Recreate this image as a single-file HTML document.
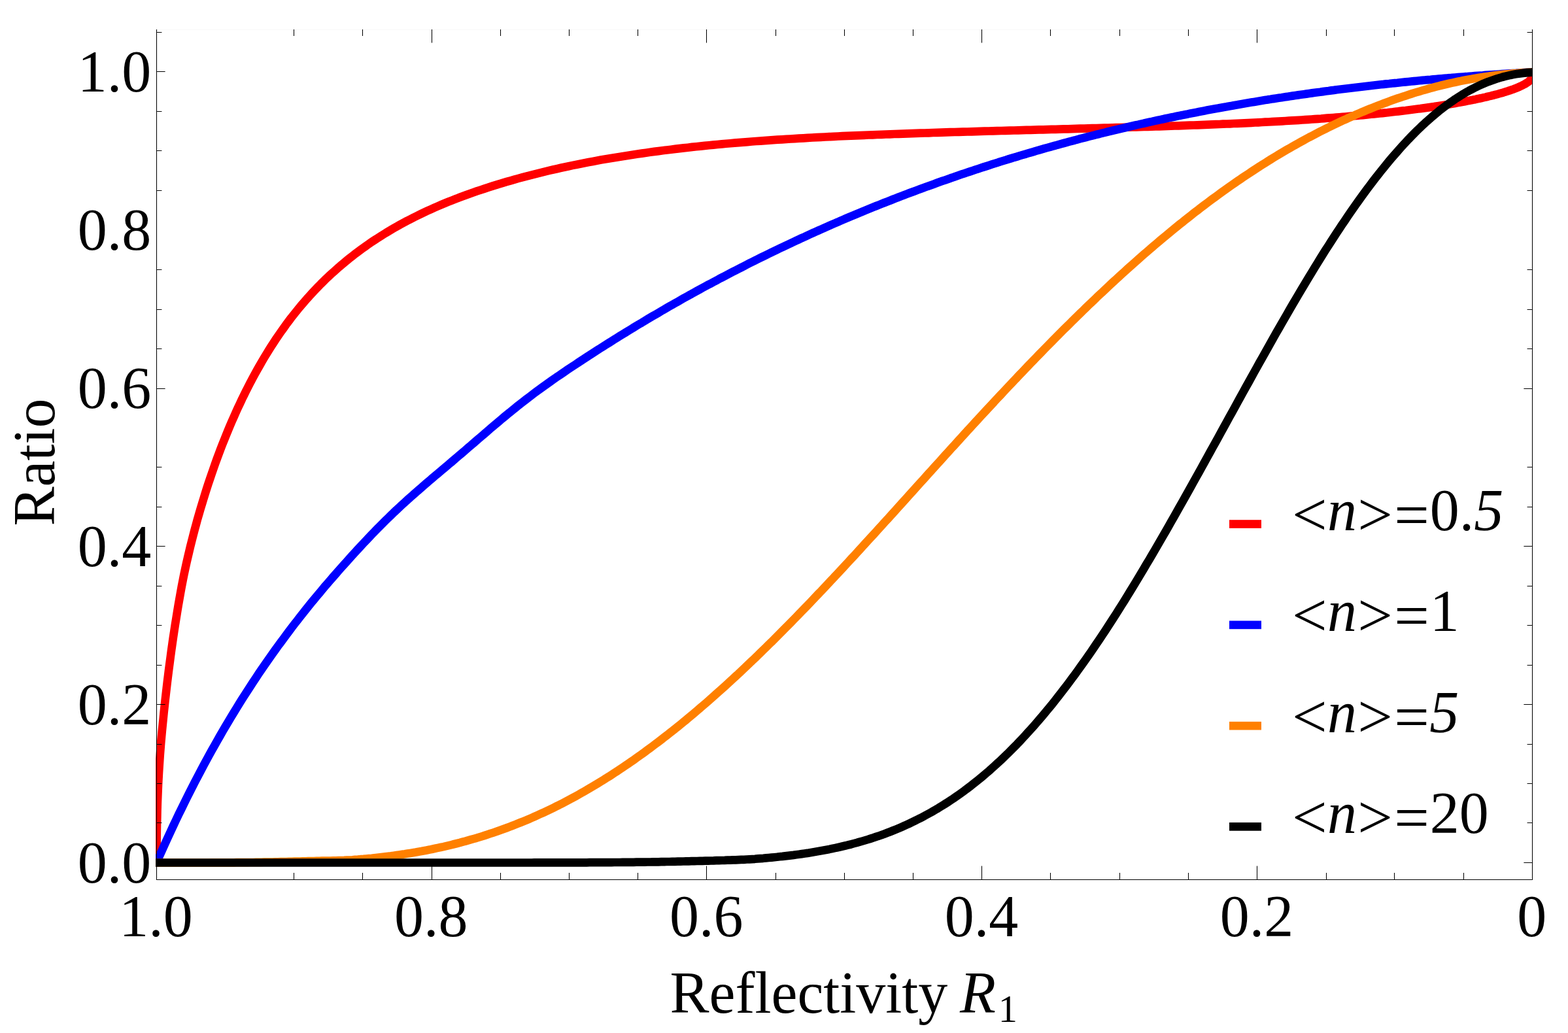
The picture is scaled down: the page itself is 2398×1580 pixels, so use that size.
<!DOCTYPE html>
<html lang="en"><head><meta charset="utf-8"><title>Ratio vs Reflectivity R1</title>
<style>html,body{margin:0;padding:0;background:#fff}svg{display:block}text{font-family:"Liberation Serif", "DejaVu Serif", serif;font-size:90px;fill:#000}.it{font-style:italic}</style></head><body>
<svg width="2398" height="1580" viewBox="0 0 2398 1580">
<rect width="2398" height="1580" fill="#fff"/>
<clipPath id="c"><rect x="238.1" y="45.0" width="2105.1" height="1300.4"/></clipPath>
<g clip-path="url(#c)" fill="none" stroke-width="12.7" stroke-linejoin="round" stroke-linecap="butt">
<path stroke="#ff0000" d="M235.5,1319.5 L239.5,1319.5 L239.5,1307.1 L239.6,1295.0 L239.7,1283.4 L239.8,1272.0 L240.0,1261.0 L240.3,1250.3 L240.5,1239.8 L240.8,1229.6 L241.2,1219.6 L241.6,1209.8 L242.0,1200.2 L242.5,1190.7 L243.0,1181.4 L243.6,1172.2 L244.2,1163.1 L244.8,1154.0 L245.5,1145.0 L246.2,1136.1 L247.0,1127.1 L247.8,1118.1 L248.7,1109.1 L249.6,1100.0 L250.5,1090.8 L251.5,1081.5 L252.5,1072.1 L253.6,1062.6 L254.7,1053.1 L255.8,1043.5 L257.0,1033.8 L258.2,1024.1 L259.5,1014.3 L260.8,1004.5 L262.1,994.7 L263.5,984.9 L264.9,975.0 L266.4,965.1 L267.9,955.2 L269.5,945.4 L271.1,935.6 L272.7,925.8 L274.4,916.1 L276.1,906.5 L277.8,897.1 L279.6,887.9 L281.4,878.8 L283.3,869.9 L285.2,861.1 L287.2,852.5 L289.2,844.0 L291.2,835.5 L293.3,827.2 L295.4,819.0 L297.5,810.9 L299.7,802.8 L301.9,794.7 L304.2,786.7 L306.5,778.8 L308.9,770.9 L311.3,763.0 L313.7,755.2 L316.1,747.5 L318.6,739.8 L321.2,732.1 L323.8,724.5 L326.4,717.0 L329.0,709.5 L331.7,702.0 L334.5,694.6 L337.2,687.3 L340.0,680.0 L342.9,672.8 L345.8,665.6 L348.7,658.5 L351.6,651.5 L354.6,644.5 L357.7,637.6 L360.7,630.7 L363.8,623.9 L367.0,617.2 L370.1,610.5 L373.4,603.9 L376.6,597.3 L379.9,590.9 L383.2,584.4 L386.6,578.1 L390.0,571.8 L393.4,565.6 L396.9,559.5 L400.4,553.4 L403.9,547.4 L407.5,541.5 L411.1,535.7 L414.7,529.9 L418.4,524.2 L422.1,518.6 L425.9,513.0 L429.7,507.5 L433.5,502.2 L437.3,496.8 L441.2,491.6 L445.1,486.4 L449.1,481.4 L453.1,476.4 L457.1,471.4 L461.1,466.6 L465.2,461.8 L469.3,457.1 L473.5,452.5 L477.7,447.9 L481.9,443.4 L486.1,439.0 L490.4,434.6 L494.7,430.4 L499.0,426.1 L503.4,422.0 L507.8,417.9 L512.3,413.9 L516.7,410.0 L521.2,406.1 L525.7,402.3 L530.3,398.5 L534.9,394.8 L539.5,391.2 L544.1,387.6 L548.8,384.1 L553.5,380.6 L558.3,377.2 L563.0,373.9 L567.8,370.6 L572.6,367.4 L577.5,364.2 L582.4,361.1 L587.3,358.0 L592.2,355.0 L597.2,352.0 L602.2,349.1 L607.2,346.2 L612.2,343.4 L617.3,340.7 L622.4,337.9 L627.5,335.3 L632.7,332.6 L637.8,330.1 L643.1,327.5 L648.3,325.0 L653.5,322.6 L658.8,320.2 L664.1,317.8 L669.4,315.5 L674.8,313.2 L680.2,310.9 L685.6,308.7 L691.0,306.6 L696.5,304.4 L701.9,302.3 L707.4,300.3 L712.9,298.2 L718.5,296.2 L724.1,294.3 L729.6,292.3 L735.3,290.4 L740.9,288.6 L746.5,286.7 L752.2,284.9 L757.9,283.1 L763.6,281.4 L769.4,279.6 L775.1,277.9 L780.9,276.3 L786.7,274.6 L792.5,273.0 L798.4,271.4 L804.2,269.8 L810.1,268.3 L816.0,266.8 L821.9,265.3 L827.9,263.8 L833.8,262.4 L839.8,260.9 L845.8,259.5 L851.8,258.2 L857.8,256.8 L863.9,255.5 L869.9,254.2 L876.0,252.9 L882.1,251.7 L888.2,250.5 L894.3,249.3 L900.5,248.1 L906.6,246.9 L912.8,245.8 L919.0,244.6 L925.2,243.6 L931.4,242.5 L937.6,241.4 L943.9,240.4 L950.1,239.4 L956.4,238.4 L962.7,237.4 L969.0,236.4 L975.3,235.5 L981.6,234.6 L988.0,233.7 L994.3,232.8 L1000.7,231.9 L1007.1,231.1 L1013.4,230.3 L1019.8,229.5 L1026.2,228.7 L1032.6,227.9 L1039.1,227.1 L1045.5,226.4 L1052.0,225.7 L1058.4,224.9 L1064.9,224.3 L1071.3,223.6 L1077.8,222.9 L1084.3,222.3 L1090.8,221.6 L1097.3,221.0 L1103.8,220.4 L1110.4,219.8 L1116.9,219.2 L1123.4,218.7 L1130.0,218.1 L1136.5,217.6 L1143.1,217.1 L1149.6,216.5 L1156.2,216.0 L1162.8,215.6 L1169.3,215.1 L1175.9,214.6 L1182.5,214.2 L1189.1,213.7 L1195.7,213.3 L1202.3,212.9 L1208.9,212.5 L1215.5,212.1 L1222.1,211.7 L1228.7,211.3 L1235.3,210.9 L1241.9,210.5 L1248.6,210.2 L1255.2,209.8 L1261.8,209.5 L1268.4,209.2 L1275.0,208.9 L1281.7,208.5 L1288.3,208.2 L1294.9,207.9 L1301.5,207.6 L1308.2,207.4 L1314.8,207.1 L1321.4,206.8 L1328.0,206.5 L1334.6,206.3 L1341.3,206.0 L1347.9,205.8 L1354.5,205.5 L1361.1,205.3 L1367.7,205.0 L1374.3,204.8 L1380.9,204.6 L1387.5,204.3 L1394.1,204.1 L1400.7,203.9 L1407.3,203.7 L1413.9,203.5 L1420.4,203.3 L1427.0,203.0 L1433.6,202.8 L1440.1,202.6 L1446.7,202.4 L1453.2,202.2 L1459.8,202.0 L1466.3,201.8 L1472.8,201.6 L1479.4,201.5 L1485.9,201.3 L1492.4,201.1 L1498.9,200.9 L1505.4,200.7 L1511.9,200.5 L1518.3,200.3 L1524.8,200.2 L1531.2,200.0 L1537.7,199.8 L1544.1,199.6 L1550.6,199.5 L1557.0,199.3 L1563.4,199.1 L1569.8,198.9 L1576.1,198.8 L1582.5,198.6 L1588.9,198.4 L1595.2,198.3 L1601.6,198.1 L1607.9,197.9 L1614.2,197.8 L1620.5,197.6 L1626.8,197.4 L1633.1,197.3 L1639.3,197.1 L1645.6,196.9 L1651.8,196.7 L1658.0,196.6 L1664.2,196.4 L1670.4,196.2 L1676.6,196.1 L1682.7,195.9 L1688.9,195.7 L1695.0,195.6 L1701.1,195.4 L1707.2,195.2 L1713.3,195.1 L1719.3,194.9 L1725.4,194.7 L1731.4,194.5 L1737.4,194.3 L1743.4,194.2 L1749.4,194.0 L1755.3,193.8 L1761.3,193.6 L1767.2,193.4 L1773.1,193.3 L1779.0,193.1 L1784.8,192.9 L1790.7,192.7 L1796.5,192.5 L1802.3,192.3 L1808.1,192.1 L1813.8,191.9 L1819.6,191.7 L1825.3,191.5 L1831.0,191.3 L1836.7,191.1 L1842.3,190.9 L1847.9,190.6 L1853.6,190.4 L1859.1,190.2 L1864.7,190.0 L1870.3,189.7 L1875.8,189.5 L1881.3,189.3 L1886.7,189.0 L1892.2,188.8 L1897.6,188.6 L1903.0,188.3 L1908.4,188.1 L1913.8,187.8 L1919.1,187.5 L1924.4,187.3 L1929.7,187.0 L1934.9,186.7 L1940.1,186.5 L1945.4,186.2 L1950.5,185.9 L1955.7,185.6 L1960.8,185.3 L1965.9,185.0 L1971.0,184.7 L1976.0,184.4 L1981.0,184.1 L1986.0,183.8 L1991.0,183.5 L1995.9,183.2 L2000.8,182.8 L2005.7,182.5 L2010.6,182.2 L2015.4,181.8 L2020.2,181.5 L2024.9,181.1 L2029.7,180.7 L2034.4,180.4 L2039.1,180.0 L2043.7,179.6 L2048.3,179.3 L2052.9,178.9 L2057.5,178.5 L2062.0,178.1 L2066.5,177.7 L2070.9,177.3 L2075.4,176.9 L2079.8,176.5 L2084.2,176.1 L2088.5,175.7 L2092.8,175.2 L2097.1,174.8 L2101.3,174.4 L2105.5,174.0 L2109.7,173.5 L2113.9,173.1 L2118.0,172.6 L2122.1,172.2 L2126.1,171.7 L2130.1,171.3 L2134.1,170.8 L2138.1,170.4 L2142.0,169.9 L2145.9,169.4 L2149.7,169.0 L2153.5,168.5 L2157.3,168.0 L2161.1,167.5 L2164.8,167.0 L2168.5,166.5 L2172.1,166.1 L2175.7,165.6 L2179.3,165.1 L2182.8,164.6 L2186.3,164.1 L2189.8,163.6 L2193.2,163.1 L2196.6,162.5 L2200.0,162.0 L2203.3,161.5 L2206.6,161.0 L2209.8,160.5 L2213.1,160.0 L2216.2,159.4 L2219.4,158.9 L2222.5,158.4 L2225.5,157.9 L2228.6,157.3 L2231.6,156.8 L2234.5,156.2 L2237.4,155.7 L2240.3,155.2 L2243.2,154.6 L2246.0,154.1 L2248.7,153.5 L2251.5,153.0 L2254.2,152.4 L2256.8,151.9 L2259.4,151.3 L2262.0,150.8 L2264.6,150.2 L2267.1,149.7 L2269.5,149.1 L2271.9,148.6 L2274.3,148.0 L2276.7,147.4 L2279.0,146.9 L2281.3,146.3 L2283.5,145.8 L2285.7,145.2 L2287.8,144.6 L2289.9,144.1 L2292.0,143.5 L2294.0,142.9 L2296.0,142.4 L2298.0,141.8 L2299.9,141.2 L2301.8,140.7 L2303.6,140.1 L2305.4,139.5 L2307.1,138.9 L2308.8,138.4 L2310.5,137.8 L2312.1,137.2 L2313.7,136.7 L2315.3,136.1 L2316.8,135.5 L2318.3,135.0 L2319.7,134.4 L2321.1,133.8 L2322.4,133.2 L2323.7,132.7 L2325.0,132.1 L2326.2,131.5 L2327.4,131.0 L2328.5,130.4 L2329.6,129.8 L2330.7,129.3 L2331.7,128.7 L2332.7,128.1 L2333.6,127.6 L2334.5,127.0 L2335.4,126.4 L2336.2,125.9 L2337.0,125.3 L2337.7,124.8 L2338.4,124.2 L2339.0,123.7 L2339.6,123.1 L2340.2,122.5 L2340.7,122.0 L2341.2,121.4 L2341.6,120.9 L2342.0,120.3 L2342.4,119.8 L2342.7,119.3 L2342.9,118.7 L2343.2,118.2 L2343.4,117.6 L2343.5,117.1 L2343.6,116.6 L2343.7,116.0 L2343.7,115.5 L2347.7,115.5"/>
<path stroke="#0000ff" d="M235.5,1319.3 L239.5,1319.3 L243.7,1309.7 L247.9,1300.3 L252.2,1290.9 L256.4,1281.7 L260.6,1272.6 L264.8,1263.5 L269.0,1254.6 L273.2,1245.8 L277.5,1237.1 L281.7,1228.5 L285.9,1220.0 L290.1,1211.6 L294.3,1203.3 L298.5,1195.1 L302.8,1187.0 L307.0,1179.0 L311.2,1171.1 L315.4,1163.3 L319.6,1155.5 L323.8,1147.9 L328.1,1140.3 L332.3,1132.9 L336.5,1125.5 L340.7,1118.2 L344.9,1111.0 L349.1,1103.9 L353.4,1096.8 L357.6,1089.9 L361.8,1083.0 L366.0,1076.2 L370.2,1069.4 L374.4,1062.8 L378.7,1056.2 L382.9,1049.7 L387.1,1043.2 L391.3,1036.9 L395.5,1030.6 L399.7,1024.4 L404.0,1018.2 L408.2,1012.1 L412.4,1006.1 L416.6,1000.1 L420.8,994.2 L425.0,988.4 L429.3,982.6 L433.5,976.9 L437.7,971.2 L441.9,965.6 L446.1,960.0 L450.3,954.5 L454.6,949.1 L458.8,943.7 L463.0,938.3 L467.2,933.0 L471.4,927.8 L475.6,922.6 L479.9,917.4 L484.1,912.3 L488.3,907.3 L492.5,902.2 L496.7,897.2 L500.9,892.3 L505.2,887.4 L509.4,882.5 L513.6,877.7 L517.8,872.9 L522.0,868.1 L526.2,863.4 L530.5,858.7 L534.7,854.0 L538.9,849.3 L543.1,844.7 L547.3,840.1 L551.5,835.6 L555.8,831.0 L560.0,826.6 L564.2,822.1 L568.4,817.7 L572.6,813.3 L576.8,809.0 L581.1,804.7 L585.3,800.5 L589.5,796.3 L593.7,792.2 L597.9,788.1 L602.1,784.0 L606.4,780.0 L610.6,776.1 L614.8,772.2 L619.0,768.3 L623.2,764.5 L627.4,760.7 L631.7,757.0 L635.9,753.2 L640.1,749.6 L644.3,745.9 L648.5,742.2 L652.7,738.6 L657.0,735.0 L661.2,731.4 L665.4,727.8 L669.6,724.3 L673.8,720.7 L678.1,717.1 L682.3,713.6 L686.5,710.0 L690.7,706.5 L694.9,702.9 L699.1,699.3 L703.4,695.7 L707.6,692.1 L711.8,688.5 L716.0,684.8 L720.2,681.2 L724.4,677.6 L728.7,673.9 L732.9,670.3 L737.1,666.7 L741.3,663.1 L745.5,659.4 L749.7,655.8 L754.0,652.2 L758.2,648.7 L762.4,645.1 L766.6,641.5 L770.8,638.0 L775.0,634.5 L779.3,631.1 L783.5,627.6 L787.7,624.2 L791.9,620.8 L796.1,617.5 L800.3,614.2 L804.6,610.9 L808.8,607.7 L813.0,604.5 L817.2,601.3 L821.4,598.2 L825.6,595.1 L829.9,592.0 L834.1,589.0 L838.3,586.0 L842.5,583.0 L846.7,580.1 L850.9,577.1 L855.2,574.2 L859.4,571.4 L863.6,568.5 L867.8,565.6 L872.0,562.8 L876.2,560.0 L880.5,557.2 L884.7,554.4 L888.9,551.6 L893.1,548.9 L897.3,546.1 L901.5,543.4 L905.8,540.6 L910.0,537.9 L914.2,535.2 L918.4,532.5 L922.6,529.8 L926.8,527.2 L931.1,524.5 L935.3,521.8 L939.5,519.2 L943.7,516.6 L947.9,513.9 L952.1,511.3 L956.4,508.7 L960.6,506.1 L964.8,503.6 L969.0,501.0 L973.2,498.4 L977.4,495.9 L981.7,493.4 L985.9,490.8 L990.1,488.3 L994.3,485.8 L998.5,483.3 L1002.7,480.9 L1007.0,478.4 L1011.2,475.9 L1015.4,473.5 L1019.6,471.0 L1023.8,468.6 L1028.0,466.2 L1032.3,463.8 L1036.5,461.4 L1040.7,459.0 L1044.9,456.6 L1049.1,454.3 L1053.3,451.9 L1057.6,449.6 L1061.8,447.2 L1066.0,444.9 L1070.2,442.6 L1074.4,440.3 L1078.6,438.0 L1082.9,435.7 L1087.1,433.5 L1091.3,431.2 L1095.5,429.0 L1099.7,426.7 L1104.0,424.5 L1108.2,422.3 L1112.4,420.1 L1116.6,417.9 L1120.8,415.7 L1125.0,413.5 L1129.3,411.3 L1133.5,409.2 L1137.7,407.0 L1141.9,404.9 L1146.1,402.7 L1150.3,400.6 L1154.6,398.5 L1158.8,396.4 L1163.0,394.3 L1167.2,392.2 L1171.4,390.2 L1175.6,388.1 L1179.9,386.0 L1184.1,384.0 L1188.3,382.0 L1192.5,379.9 L1196.7,377.9 L1200.9,375.9 L1205.2,373.9 L1209.4,371.9 L1213.6,370.0 L1217.8,368.0 L1222.0,366.1 L1226.2,364.1 L1230.5,362.2 L1234.7,360.2 L1238.9,358.3 L1243.1,356.4 L1247.3,354.5 L1251.5,352.6 L1255.8,350.7 L1260.0,348.9 L1264.2,347.0 L1268.4,345.2 L1272.6,343.3 L1276.8,341.5 L1281.1,339.7 L1285.3,337.8 L1289.5,336.0 L1293.7,334.2 L1297.9,332.4 L1302.1,330.7 L1306.4,328.9 L1310.6,327.1 L1314.8,325.4 L1319.0,323.6 L1323.2,321.9 L1327.4,320.2 L1331.7,318.4 L1335.9,316.7 L1340.1,315.0 L1344.3,313.4 L1348.5,311.7 L1352.7,310.0 L1357.0,308.3 L1361.2,306.7 L1365.4,305.0 L1369.6,303.4 L1373.8,301.8 L1378.0,300.1 L1382.3,298.5 L1386.5,296.9 L1390.7,295.3 L1394.9,293.7 L1399.1,292.2 L1403.3,290.6 L1407.6,289.0 L1411.8,287.5 L1416.0,285.9 L1420.2,284.4 L1424.4,282.9 L1428.6,281.4 L1432.9,279.8 L1437.1,278.3 L1441.3,276.8 L1445.5,275.4 L1449.7,273.9 L1453.9,272.4 L1458.2,271.0 L1462.4,269.5 L1466.6,268.1 L1470.8,266.6 L1475.0,265.2 L1479.2,263.8 L1483.5,262.4 L1487.7,261.0 L1491.9,259.6 L1496.1,258.2 L1500.3,256.8 L1504.6,255.4 L1508.8,254.1 L1513.0,252.7 L1517.2,251.3 L1521.4,250.0 L1525.6,248.7 L1529.9,247.3 L1534.1,246.0 L1538.3,244.7 L1542.5,243.4 L1546.7,242.1 L1550.9,240.8 L1555.2,239.6 L1559.4,238.3 L1563.6,237.0 L1567.8,235.8 L1572.0,234.5 L1576.2,233.3 L1580.5,232.1 L1584.7,230.8 L1588.9,229.6 L1593.1,228.4 L1597.3,227.2 L1601.5,226.0 L1605.8,224.8 L1610.0,223.6 L1614.2,222.5 L1618.4,221.3 L1622.6,220.1 L1626.8,219.0 L1631.1,217.8 L1635.3,216.7 L1639.5,215.6 L1643.7,214.5 L1647.9,213.3 L1652.1,212.2 L1656.4,211.1 L1660.6,210.0 L1664.8,208.9 L1669.0,207.9 L1673.2,206.8 L1677.4,205.7 L1681.7,204.7 L1685.9,203.6 L1690.1,202.6 L1694.3,201.5 L1698.5,200.5 L1702.7,199.5 L1707.0,198.5 L1711.2,197.5 L1715.4,196.5 L1719.6,195.5 L1723.8,194.5 L1728.0,193.5 L1732.3,192.5 L1736.5,191.5 L1740.7,190.6 L1744.9,189.6 L1749.1,188.7 L1753.3,187.7 L1757.6,186.8 L1761.8,185.9 L1766.0,184.9 L1770.2,184.0 L1774.4,183.1 L1778.6,182.2 L1782.9,181.3 L1787.1,180.4 L1791.3,179.5 L1795.5,178.7 L1799.7,177.8 L1803.9,176.9 L1808.2,176.1 L1812.4,175.2 L1816.6,174.4 L1820.8,173.5 L1825.0,172.7 L1829.2,171.9 L1833.5,171.0 L1837.7,170.2 L1841.9,169.4 L1846.1,168.6 L1850.3,167.8 L1854.5,167.0 L1858.8,166.2 L1863.0,165.5 L1867.2,164.7 L1871.4,163.9 L1875.6,163.2 L1879.8,162.4 L1884.1,161.7 L1888.3,160.9 L1892.5,160.2 L1896.7,159.4 L1900.9,158.7 L1905.1,158.0 L1909.4,157.3 L1913.6,156.6 L1917.8,155.9 L1922.0,155.2 L1926.2,154.5 L1930.5,153.8 L1934.7,153.1 L1938.9,152.4 L1943.1,151.8 L1947.3,151.1 L1951.5,150.5 L1955.8,149.8 L1960.0,149.2 L1964.2,148.5 L1968.4,147.9 L1972.6,147.2 L1976.8,146.6 L1981.1,146.0 L1985.3,145.4 L1989.5,144.8 L1993.7,144.2 L1997.9,143.6 L2002.1,143.0 L2006.4,142.4 L2010.6,141.8 L2014.8,141.2 L2019.0,140.7 L2023.2,140.1 L2027.4,139.5 L2031.7,139.0 L2035.9,138.4 L2040.1,137.9 L2044.3,137.3 L2048.5,136.8 L2052.7,136.3 L2057.0,135.7 L2061.2,135.2 L2065.4,134.7 L2069.6,134.2 L2073.8,133.7 L2078.0,133.2 L2082.3,132.7 L2086.5,132.2 L2090.7,131.7 L2094.9,131.2 L2099.1,130.7 L2103.3,130.3 L2107.6,129.8 L2111.8,129.3 L2116.0,128.9 L2120.2,128.4 L2124.4,128.0 L2128.6,127.5 L2132.9,127.1 L2137.1,126.7 L2141.3,126.2 L2145.5,125.8 L2149.7,125.4 L2153.9,125.0 L2158.2,124.5 L2162.4,124.1 L2166.6,123.7 L2170.8,123.3 L2175.0,122.9 L2179.2,122.5 L2183.5,122.1 L2187.7,121.8 L2191.9,121.4 L2196.1,121.0 L2200.3,120.6 L2204.5,120.3 L2208.8,119.9 L2213.0,119.5 L2217.2,119.2 L2221.4,118.8 L2225.6,118.5 L2229.8,118.2 L2234.1,117.8 L2238.3,117.5 L2242.5,117.2 L2246.7,116.8 L2250.9,116.5 L2255.1,116.2 L2259.4,115.9 L2263.6,115.6 L2267.8,115.3 L2272.0,114.9 L2276.2,114.6 L2280.4,114.4 L2284.7,114.1 L2288.9,113.8 L2293.1,113.5 L2297.3,113.2 L2301.5,112.9 L2305.7,112.7 L2310.0,112.4 L2314.2,112.1 L2318.4,111.9 L2322.6,111.6 L2326.8,111.3 L2331.0,111.1 L2335.3,110.8 L2339.5,110.6 L2343.7,110.5 L2347.7,110.5"/>
<path stroke="#ff8000" d="M235.5,1319.5 L239.5,1319.5 L243.7,1319.5 L247.9,1319.5 L252.2,1319.5 L256.4,1319.5 L260.6,1319.5 L264.8,1319.5 L269.0,1319.5 L273.2,1319.5 L277.5,1319.5 L281.7,1319.5 L285.9,1319.5 L290.1,1319.5 L294.3,1319.5 L298.5,1319.5 L302.8,1319.5 L307.0,1319.5 L311.2,1319.5 L315.4,1319.5 L319.6,1319.5 L323.8,1319.4 L328.1,1319.4 L332.3,1319.4 L336.5,1319.4 L340.7,1319.4 L344.9,1319.4 L349.1,1319.3 L353.4,1319.3 L357.6,1319.3 L361.8,1319.2 L366.0,1319.2 L370.2,1319.2 L374.4,1319.1 L378.7,1319.1 L382.9,1319.0 L387.1,1319.0 L391.3,1318.9 L395.5,1318.9 L399.7,1318.8 L404.0,1318.7 L408.2,1318.7 L412.4,1318.6 L416.6,1318.5 L420.8,1318.4 L425.0,1318.3 L429.3,1318.2 L433.5,1318.1 L437.7,1318.0 L441.9,1317.9 L446.1,1317.8 L450.3,1317.7 L454.6,1317.6 L458.8,1317.5 L463.0,1317.4 L467.2,1317.3 L471.4,1317.2 L475.6,1317.1 L479.9,1317.0 L484.1,1316.9 L488.3,1316.8 L492.5,1316.7 L496.7,1316.6 L500.9,1316.5 L505.2,1316.5 L509.4,1316.4 L513.6,1316.3 L517.8,1316.1 L522.0,1316.0 L526.2,1315.9 L530.5,1315.7 L534.7,1315.5 L538.9,1315.3 L543.1,1314.9 L547.3,1314.6 L551.5,1314.2 L555.8,1313.9 L560.0,1313.5 L564.2,1313.1 L568.4,1312.7 L572.6,1312.2 L576.8,1311.8 L581.1,1311.3 L585.3,1310.8 L589.5,1310.3 L593.7,1309.8 L597.9,1309.3 L602.1,1308.7 L606.4,1308.1 L610.6,1307.5 L614.8,1306.9 L619.0,1306.3 L623.2,1305.6 L627.4,1304.9 L631.7,1304.2 L635.9,1303.5 L640.1,1302.7 L644.3,1302.0 L648.5,1301.2 L652.7,1300.4 L657.0,1299.6 L661.2,1298.7 L665.4,1297.8 L669.6,1296.9 L673.8,1296.0 L678.1,1295.1 L682.3,1294.1 L686.5,1293.1 L690.7,1292.1 L694.9,1291.0 L699.1,1290.0 L703.4,1288.9 L707.6,1287.7 L711.8,1286.6 L716.0,1285.4 L720.2,1284.2 L724.4,1283.0 L728.7,1281.8 L732.9,1280.5 L737.1,1279.2 L741.3,1277.9 L745.5,1276.5 L749.7,1275.1 L754.0,1273.7 L758.2,1272.3 L762.4,1270.8 L766.6,1269.3 L770.8,1267.8 L775.0,1266.2 L779.3,1264.6 L783.5,1263.0 L787.7,1261.4 L791.9,1259.7 L796.1,1258.0 L800.3,1256.3 L804.6,1254.6 L808.8,1252.8 L813.0,1251.0 L817.2,1249.1 L821.4,1247.2 L825.6,1245.3 L829.9,1243.4 L834.1,1241.4 L838.3,1239.4 L842.5,1237.4 L846.7,1235.4 L850.9,1233.3 L855.2,1231.2 L859.4,1229.0 L863.6,1226.8 L867.8,1224.6 L872.0,1222.4 L876.2,1220.1 L880.5,1217.8 L884.7,1215.5 L888.9,1213.1 L893.1,1210.7 L897.3,1208.3 L901.5,1205.8 L905.8,1203.3 L910.0,1200.8 L914.2,1198.3 L918.4,1195.7 L922.6,1193.1 L926.8,1190.4 L931.1,1187.8 L935.3,1185.1 L939.5,1182.3 L943.7,1179.6 L947.9,1176.8 L952.1,1174.0 L956.4,1171.1 L960.6,1168.2 L964.8,1165.3 L969.0,1162.4 L973.2,1159.4 L977.4,1156.4 L981.7,1153.4 L985.9,1150.3 L990.1,1147.2 L994.3,1144.1 L998.5,1141.0 L1002.7,1137.8 L1007.0,1134.6 L1011.2,1131.4 L1015.4,1128.1 L1019.6,1124.9 L1023.8,1121.6 L1028.0,1118.2 L1032.3,1114.9 L1036.5,1111.5 L1040.7,1108.1 L1044.9,1104.6 L1049.1,1101.2 L1053.3,1097.7 L1057.6,1094.1 L1061.8,1090.6 L1066.0,1087.0 L1070.2,1083.4 L1074.4,1079.8 L1078.6,1076.2 L1082.9,1072.5 L1087.1,1068.8 L1091.3,1065.1 L1095.5,1061.3 L1099.7,1057.6 L1104.0,1053.8 L1108.2,1050.0 L1112.4,1046.1 L1116.6,1042.3 L1120.8,1038.4 L1125.0,1034.5 L1129.3,1030.6 L1133.5,1026.6 L1137.7,1022.7 L1141.9,1018.7 L1146.1,1014.7 L1150.3,1010.6 L1154.6,1006.6 L1158.8,1002.5 L1163.0,998.4 L1167.2,994.3 L1171.4,990.2 L1175.6,986.0 L1179.9,981.9 L1184.1,977.7 L1188.3,973.5 L1192.5,969.3 L1196.7,965.0 L1200.9,960.8 L1205.2,956.5 L1209.4,952.2 L1213.6,947.9 L1217.8,943.6 L1222.0,939.3 L1226.2,934.9 L1230.5,930.5 L1234.7,926.2 L1238.9,921.8 L1243.1,917.4 L1247.3,912.9 L1251.5,908.5 L1255.8,904.1 L1260.0,899.6 L1264.2,895.1 L1268.4,890.6 L1272.6,886.2 L1276.8,881.6 L1281.1,877.1 L1285.3,872.6 L1289.5,868.1 L1293.7,863.5 L1297.9,859.0 L1302.1,854.4 L1306.4,849.8 L1310.6,845.2 L1314.8,840.6 L1319.0,836.0 L1323.2,831.4 L1327.4,826.8 L1331.7,822.2 L1335.9,817.6 L1340.1,813.0 L1344.3,808.3 L1348.5,803.7 L1352.7,799.0 L1357.0,794.4 L1361.2,789.7 L1365.4,785.1 L1369.6,780.4 L1373.8,775.7 L1378.0,771.1 L1382.3,766.4 L1386.5,761.7 L1390.7,757.0 L1394.9,752.4 L1399.1,747.7 L1403.3,743.0 L1407.6,738.3 L1411.8,733.7 L1416.0,729.0 L1420.2,724.3 L1424.4,719.7 L1428.6,715.0 L1432.9,710.3 L1437.1,705.7 L1441.3,701.0 L1445.5,696.3 L1449.7,691.7 L1453.9,687.0 L1458.2,682.4 L1462.4,677.7 L1466.6,673.1 L1470.8,668.5 L1475.0,663.9 L1479.2,659.2 L1483.5,654.6 L1487.7,650.0 L1491.9,645.4 L1496.1,640.9 L1500.3,636.3 L1504.6,631.7 L1508.8,627.1 L1513.0,622.6 L1517.2,618.1 L1521.4,613.5 L1525.6,609.0 L1529.9,604.5 L1534.1,600.0 L1538.3,595.5 L1542.5,591.0 L1546.7,586.6 L1550.9,582.1 L1555.2,577.7 L1559.4,573.2 L1563.6,568.8 L1567.8,564.4 L1572.0,560.0 L1576.2,555.6 L1580.5,551.2 L1584.7,546.9 L1588.9,542.5 L1593.1,538.2 L1597.3,533.9 L1601.5,529.6 L1605.8,525.3 L1610.0,521.0 L1614.2,516.8 L1618.4,512.5 L1622.6,508.3 L1626.8,504.1 L1631.1,499.9 L1635.3,495.7 L1639.5,491.5 L1643.7,487.4 L1647.9,483.2 L1652.1,479.1 L1656.4,475.0 L1660.6,470.9 L1664.8,466.8 L1669.0,462.8 L1673.2,458.8 L1677.4,454.7 L1681.7,450.7 L1685.9,446.8 L1690.1,442.8 L1694.3,438.9 L1698.5,434.9 L1702.7,431.0 L1707.0,427.1 L1711.2,423.3 L1715.4,419.4 L1719.6,415.6 L1723.8,411.8 L1728.0,408.0 L1732.3,404.2 L1736.5,400.5 L1740.7,396.7 L1744.9,393.0 L1749.1,389.3 L1753.3,385.7 L1757.6,382.0 L1761.8,378.4 L1766.0,374.8 L1770.2,371.2 L1774.4,367.6 L1778.6,364.1 L1782.9,360.6 L1787.1,357.1 L1791.3,353.6 L1795.5,350.1 L1799.7,346.7 L1803.9,343.3 L1808.2,339.9 L1812.4,336.6 L1816.6,333.2 L1820.8,329.9 L1825.0,326.6 L1829.2,323.3 L1833.5,320.1 L1837.7,316.8 L1841.9,313.6 L1846.1,310.5 L1850.3,307.3 L1854.5,304.2 L1858.8,301.1 L1863.0,298.0 L1867.2,294.9 L1871.4,291.9 L1875.6,288.9 L1879.8,285.9 L1884.1,282.9 L1888.3,280.0 L1892.5,277.1 L1896.7,274.2 L1900.9,271.3 L1905.1,268.5 L1909.4,265.7 L1913.6,262.9 L1917.8,260.1 L1922.0,257.4 L1926.2,254.6 L1930.5,251.9 L1934.7,249.3 L1938.9,246.6 L1943.1,244.0 L1947.3,241.4 L1951.5,238.9 L1955.8,236.3 L1960.0,233.8 L1964.2,231.3 L1968.4,228.8 L1972.6,226.4 L1976.8,224.0 L1981.1,221.6 L1985.3,219.2 L1989.5,216.9 L1993.7,214.6 L1997.9,212.3 L2002.1,210.0 L2006.4,207.8 L2010.6,205.6 L2014.8,203.4 L2019.0,201.2 L2023.2,199.1 L2027.4,197.0 L2031.7,194.9 L2035.9,192.8 L2040.1,190.8 L2044.3,188.8 L2048.5,186.8 L2052.7,184.8 L2057.0,182.9 L2061.2,180.9 L2065.4,179.1 L2069.6,177.2 L2073.8,175.3 L2078.0,173.5 L2082.3,171.7 L2086.5,170.0 L2090.7,168.2 L2094.9,166.5 L2099.1,164.8 L2103.3,163.1 L2107.6,161.5 L2111.8,159.9 L2116.0,158.3 L2120.2,156.7 L2124.4,155.1 L2128.6,153.6 L2132.9,152.1 L2137.1,150.6 L2141.3,149.2 L2145.5,147.8 L2149.7,146.4 L2153.9,145.0 L2158.2,143.6 L2162.4,142.3 L2166.6,141.0 L2170.8,139.8 L2175.0,138.5 L2179.2,137.3 L2183.5,136.1 L2187.7,134.9 L2191.9,133.8 L2196.1,132.7 L2200.3,131.6 L2204.5,130.5 L2208.8,129.5 L2213.0,128.5 L2217.2,127.5 L2221.4,126.6 L2225.6,125.7 L2229.8,124.8 L2234.1,123.9 L2238.3,123.0 L2242.5,122.2 L2246.7,121.4 L2250.9,120.7 L2255.1,119.9 L2259.4,119.2 L2263.6,118.6 L2267.8,117.9 L2272.0,117.3 L2276.2,116.7 L2280.4,116.1 L2284.7,115.5 L2288.9,115.0 L2293.1,114.5 L2297.3,114.0 L2301.5,113.6 L2305.7,113.2 L2310.0,112.8 L2314.2,112.4 L2318.4,112.1 L2322.6,111.7 L2326.8,111.4 L2331.0,111.2 L2335.3,110.9 L2339.5,110.7 L2343.7,110.5 L2347.7,110.5"/>
<path stroke="#000000" d="M235.5,1319.5 L239.5,1319.5 L243.7,1319.5 L247.9,1319.5 L252.2,1319.5 L256.4,1319.5 L260.6,1319.5 L264.8,1319.5 L269.0,1319.5 L273.2,1319.5 L277.5,1319.5 L281.7,1319.5 L285.9,1319.5 L290.1,1319.5 L294.3,1319.5 L298.5,1319.5 L302.8,1319.5 L307.0,1319.5 L311.2,1319.5 L315.4,1319.5 L319.6,1319.5 L323.8,1319.5 L328.1,1319.5 L332.3,1319.5 L336.5,1319.5 L340.7,1319.5 L344.9,1319.5 L349.1,1319.5 L353.4,1319.5 L357.6,1319.5 L361.8,1319.5 L366.0,1319.5 L370.2,1319.5 L374.4,1319.5 L378.7,1319.5 L382.9,1319.5 L387.1,1319.5 L391.3,1319.5 L395.5,1319.5 L399.7,1319.5 L404.0,1319.5 L408.2,1319.5 L412.4,1319.5 L416.6,1319.5 L420.8,1319.5 L425.0,1319.5 L429.3,1319.5 L433.5,1319.5 L437.7,1319.5 L441.9,1319.5 L446.1,1319.5 L450.3,1319.5 L454.6,1319.5 L458.8,1319.5 L463.0,1319.5 L467.2,1319.5 L471.4,1319.5 L475.6,1319.5 L479.9,1319.5 L484.1,1319.5 L488.3,1319.5 L492.5,1319.5 L496.7,1319.5 L500.9,1319.5 L505.2,1319.5 L509.4,1319.5 L513.6,1319.5 L517.8,1319.5 L522.0,1319.5 L526.2,1319.5 L530.5,1319.5 L534.7,1319.5 L538.9,1319.5 L543.1,1319.5 L547.3,1319.5 L551.5,1319.5 L555.8,1319.5 L560.0,1319.5 L564.2,1319.5 L568.4,1319.5 L572.6,1319.5 L576.8,1319.5 L581.1,1319.5 L585.3,1319.5 L589.5,1319.5 L593.7,1319.5 L597.9,1319.5 L602.1,1319.5 L606.4,1319.5 L610.6,1319.5 L614.8,1319.5 L619.0,1319.5 L623.2,1319.5 L627.4,1319.5 L631.7,1319.5 L635.9,1319.5 L640.1,1319.5 L644.3,1319.5 L648.5,1319.5 L652.7,1319.5 L657.0,1319.5 L661.2,1319.5 L665.4,1319.5 L669.6,1319.5 L673.8,1319.5 L678.1,1319.5 L682.3,1319.5 L686.5,1319.5 L690.7,1319.5 L694.9,1319.5 L699.1,1319.5 L703.4,1319.5 L707.6,1319.5 L711.8,1319.5 L716.0,1319.5 L720.2,1319.5 L724.4,1319.5 L728.7,1319.5 L732.9,1319.5 L737.1,1319.5 L741.3,1319.5 L745.5,1319.5 L749.7,1319.5 L754.0,1319.5 L758.2,1319.5 L762.4,1319.5 L766.6,1319.5 L770.8,1319.5 L775.0,1319.5 L779.3,1319.5 L783.5,1319.5 L787.7,1319.5 L791.9,1319.5 L796.1,1319.5 L800.3,1319.5 L804.6,1319.5 L808.8,1319.5 L813.0,1319.5 L817.2,1319.4 L821.4,1319.4 L825.6,1319.4 L829.9,1319.4 L834.1,1319.4 L838.3,1319.4 L842.5,1319.4 L846.7,1319.4 L850.9,1319.4 L855.2,1319.4 L859.4,1319.4 L863.6,1319.4 L867.8,1319.4 L872.0,1319.3 L876.2,1319.3 L880.5,1319.3 L884.7,1319.3 L888.9,1319.3 L893.1,1319.3 L897.3,1319.3 L901.5,1319.2 L905.8,1319.2 L910.0,1319.2 L914.2,1319.2 L918.4,1319.2 L922.6,1319.1 L926.8,1319.1 L931.1,1319.1 L935.3,1319.1 L939.5,1319.0 L943.7,1319.0 L947.9,1319.0 L952.1,1318.9 L956.4,1318.9 L960.6,1318.8 L964.8,1318.8 L969.0,1318.8 L973.2,1318.7 L977.4,1318.7 L981.7,1318.6 L985.9,1318.6 L990.1,1318.5 L994.3,1318.5 L998.5,1318.4 L1002.7,1318.3 L1007.0,1318.3 L1011.2,1318.2 L1015.4,1318.1 L1019.6,1318.0 L1023.8,1318.0 L1028.0,1317.9 L1032.3,1317.8 L1036.5,1317.7 L1040.7,1317.6 L1044.9,1317.5 L1049.1,1317.4 L1053.3,1317.3 L1057.6,1317.2 L1061.8,1317.1 L1066.0,1317.0 L1070.2,1316.9 L1074.4,1316.8 L1078.6,1316.7 L1082.9,1316.6 L1087.1,1316.5 L1091.3,1316.4 L1095.5,1316.2 L1099.7,1316.1 L1104.0,1316.0 L1108.2,1315.9 L1112.4,1315.7 L1116.6,1315.6 L1120.8,1315.4 L1125.0,1315.3 L1129.3,1315.1 L1133.5,1314.9 L1137.7,1314.8 L1141.9,1314.5 L1146.1,1314.3 L1150.3,1314.1 L1154.6,1313.8 L1158.8,1313.4 L1163.0,1313.1 L1167.2,1312.8 L1171.4,1312.4 L1175.6,1312.0 L1179.9,1311.6 L1184.1,1311.2 L1188.3,1310.8 L1192.5,1310.3 L1196.7,1309.9 L1200.9,1309.4 L1205.2,1308.9 L1209.4,1308.4 L1213.6,1307.9 L1217.8,1307.3 L1222.0,1306.7 L1226.2,1306.1 L1230.5,1305.5 L1234.7,1304.9 L1238.9,1304.2 L1243.1,1303.5 L1247.3,1302.8 L1251.5,1302.1 L1255.8,1301.3 L1260.0,1300.5 L1264.2,1299.7 L1268.4,1298.9 L1272.6,1298.0 L1276.8,1297.1 L1281.1,1296.2 L1285.3,1295.3 L1289.5,1294.3 L1293.7,1293.3 L1297.9,1292.2 L1302.1,1291.2 L1306.4,1290.0 L1310.6,1288.9 L1314.8,1287.7 L1319.0,1286.5 L1323.2,1285.2 L1327.4,1284.0 L1331.7,1282.6 L1335.9,1281.3 L1340.1,1279.8 L1344.3,1278.4 L1348.5,1276.9 L1352.7,1275.4 L1357.0,1273.8 L1361.2,1272.2 L1365.4,1270.5 L1369.6,1268.8 L1373.8,1267.1 L1378.0,1265.3 L1382.3,1263.4 L1386.5,1261.5 L1390.7,1259.6 L1394.9,1257.6 L1399.1,1255.5 L1403.3,1253.4 L1407.6,1251.3 L1411.8,1249.1 L1416.0,1246.8 L1420.2,1244.5 L1424.4,1242.2 L1428.6,1239.7 L1432.9,1237.3 L1437.1,1234.7 L1441.3,1232.1 L1445.5,1229.5 L1449.7,1226.8 L1453.9,1224.0 L1458.2,1221.2 L1462.4,1218.3 L1466.6,1215.3 L1470.8,1212.3 L1475.0,1209.3 L1479.2,1206.1 L1483.5,1202.9 L1487.7,1199.6 L1491.9,1196.3 L1496.1,1192.9 L1500.3,1189.5 L1504.6,1185.9 L1508.8,1182.3 L1513.0,1178.7 L1517.2,1174.9 L1521.4,1171.1 L1525.6,1167.3 L1529.9,1163.4 L1534.1,1159.4 L1538.3,1155.3 L1542.5,1151.2 L1546.7,1147.0 L1550.9,1142.7 L1555.2,1138.4 L1559.4,1134.0 L1563.6,1129.5 L1567.8,1125.0 L1572.0,1120.3 L1576.2,1115.7 L1580.5,1110.9 L1584.7,1106.1 L1588.9,1101.3 L1593.1,1096.3 L1597.3,1091.3 L1601.5,1086.2 L1605.8,1081.1 L1610.0,1075.9 L1614.2,1070.6 L1618.4,1065.3 L1622.6,1059.9 L1626.8,1054.4 L1631.1,1048.9 L1635.3,1043.3 L1639.5,1037.6 L1643.7,1031.9 L1647.9,1026.1 L1652.1,1020.3 L1656.4,1014.3 L1660.6,1008.4 L1664.8,1002.3 L1669.0,996.3 L1673.2,990.1 L1677.4,983.9 L1681.7,977.6 L1685.9,971.3 L1690.1,964.9 L1694.3,958.5 L1698.5,952.0 L1702.7,945.5 L1707.0,938.9 L1711.2,932.2 L1715.4,925.5 L1719.6,918.8 L1723.8,912.0 L1728.0,905.1 L1732.3,898.2 L1736.5,891.3 L1740.7,884.3 L1744.9,877.3 L1749.1,870.2 L1753.3,863.1 L1757.6,856.0 L1761.8,848.8 L1766.0,841.6 L1770.2,834.4 L1774.4,827.1 L1778.6,819.8 L1782.9,812.5 L1787.1,805.1 L1791.3,797.7 L1795.5,790.3 L1799.7,782.9 L1803.9,775.4 L1808.2,767.9 L1812.4,760.4 L1816.6,752.9 L1820.8,745.4 L1825.0,737.8 L1829.2,730.2 L1833.5,722.6 L1837.7,715.0 L1841.9,707.4 L1846.1,699.8 L1850.3,692.1 L1854.5,684.5 L1858.8,676.9 L1863.0,669.2 L1867.2,661.5 L1871.4,653.9 L1875.6,646.2 L1879.8,638.5 L1884.1,630.9 L1888.3,623.2 L1892.5,615.5 L1896.7,607.9 L1900.9,600.3 L1905.1,592.6 L1909.4,585.0 L1913.6,577.4 L1917.8,569.8 L1922.0,562.2 L1926.2,554.6 L1930.5,547.1 L1934.7,539.6 L1938.9,532.1 L1943.1,524.6 L1947.3,517.1 L1951.5,509.7 L1955.8,502.3 L1960.0,494.9 L1964.2,487.6 L1968.4,480.3 L1972.6,473.0 L1976.8,465.8 L1981.1,458.6 L1985.3,451.4 L1989.5,444.3 L1993.7,437.2 L1997.9,430.2 L2002.1,423.2 L2006.4,416.2 L2010.6,409.3 L2014.8,402.5 L2019.0,395.7 L2023.2,388.9 L2027.4,382.2 L2031.7,375.6 L2035.9,369.0 L2040.1,362.5 L2044.3,356.1 L2048.5,349.7 L2052.7,343.3 L2057.0,337.1 L2061.2,330.8 L2065.4,324.7 L2069.6,318.6 L2073.8,312.6 L2078.0,306.7 L2082.3,300.8 L2086.5,295.0 L2090.7,289.3 L2094.9,283.7 L2099.1,278.1 L2103.3,272.6 L2107.6,267.2 L2111.8,261.9 L2116.0,256.7 L2120.2,251.5 L2124.4,246.4 L2128.6,241.4 L2132.9,236.5 L2137.1,231.7 L2141.3,226.9 L2145.5,222.3 L2149.7,217.7 L2153.9,213.2 L2158.2,208.8 L2162.4,204.5 L2166.6,200.3 L2170.8,196.2 L2175.0,192.2 L2179.2,188.3 L2183.5,184.5 L2187.7,180.7 L2191.9,177.1 L2196.1,173.6 L2200.3,170.1 L2204.5,166.8 L2208.8,163.5 L2213.0,160.4 L2217.2,157.3 L2221.4,154.4 L2225.6,151.5 L2229.8,148.8 L2234.1,146.1 L2238.3,143.5 L2242.5,141.1 L2246.7,138.7 L2250.9,136.5 L2255.1,134.3 L2259.4,132.2 L2263.6,130.3 L2267.8,128.4 L2272.0,126.6 L2276.2,124.9 L2280.4,123.4 L2284.7,121.9 L2288.9,120.5 L2293.1,119.2 L2297.3,118.0 L2301.5,116.9 L2305.7,115.9 L2310.0,114.9 L2314.2,114.1 L2318.4,113.3 L2322.6,112.7 L2326.8,112.1 L2331.0,111.6 L2335.3,111.1 L2339.5,110.8 L2343.7,110.5 L2347.7,110.5"/>
</g>
<path d="M239.5,45.5H2343.5" fill="none" stroke="#f8f8f8" stroke-width="1"/>
<path d="M239.5,44.9V1345.5H2343.5V44.9M2238.5,1345.5v-10.5M2238.5,44.9v10.0M2132.5,1345.5v-10.5M2132.5,44.9v10.0M2028.5,1345.5v-10.5M2028.5,44.9v10.0M1922.5,1345.5v-21.0M1922.5,44.9v20.5M1817.5,1345.5v-10.5M1817.5,44.9v10.0M1712.5,1345.5v-10.5M1712.5,44.9v10.0M1606.5,1345.5v-10.5M1606.5,44.9v10.0M1501.5,1345.5v-21.0M1501.5,44.9v20.5M1396.5,1345.5v-10.5M1396.5,44.9v10.0M1291.5,1345.5v-10.5M1291.5,44.9v10.0M1186.5,1345.5v-10.5M1186.5,44.9v10.0M1080.5,1345.5v-21.0M1080.5,44.9v20.5M975.5,1345.5v-10.5M975.5,44.9v10.0M870.5,1345.5v-10.5M870.5,44.9v10.0M765.5,1345.5v-10.5M765.5,44.9v10.0M660.5,1345.5v-21.0M660.5,44.9v20.5M554.5,1345.5v-10.5M554.5,44.9v10.0M449.5,1345.5v-10.5M449.5,44.9v10.0M239.5,1319.5h13.1M2343.5,1319.5h-13.1M239.5,1258.5h7.9M2343.5,1258.5h-7.9M239.5,1198.5h7.9M2343.5,1198.5h-7.9M239.5,1138.5h7.9M2343.5,1138.5h-7.9M239.5,1077.5h13.1M2343.5,1077.5h-13.1M239.5,1017.5h7.9M2343.5,1017.5h-7.9M239.5,956.5h7.9M2343.5,956.5h-7.9M239.5,896.5h7.9M2343.5,896.5h-7.9M239.5,835.5h13.1M2343.5,835.5h-13.1M239.5,775.5h7.9M2343.5,775.5h-7.9M239.5,714.5h7.9M2343.5,714.5h-7.9M239.5,594.5h13.1M2343.5,594.5h-13.1M239.5,533.5h7.9M2343.5,533.5h-7.9M239.5,473.5h7.9M2343.5,473.5h-7.9M239.5,412.5h7.9M2343.5,412.5h-7.9M239.5,291.5h7.9M2343.5,291.5h-7.9M239.5,230.5h7.9M2343.5,230.5h-7.9M239.5,170.5h7.9M2343.5,170.5h-7.9M239.5,109.5h13.1M2343.5,109.5h-13.1M239.5,49.5h7.9M2343.5,49.5h-7.9" fill="none" stroke="#000" stroke-width="1.05"/>
<text x="231.2" y="1349.9" text-anchor="end">0.0</text>
<text x="231.2" y="1107.9" text-anchor="end">0.2</text>
<text x="231.2" y="865.9" text-anchor="end">0.4</text>
<text x="231.2" y="623.8" text-anchor="end">0.6</text>
<text x="231.2" y="381.8" text-anchor="end">0.8</text>
<text x="231.2" y="139.8" text-anchor="end">1.0</text>
<text x="238.5" y="1432.3" text-anchor="middle">1.0</text>
<text x="659.3" y="1432.3" text-anchor="middle">0.8</text>
<text x="1080.2" y="1432.3" text-anchor="middle">0.6</text>
<text x="1501.0" y="1432.3" text-anchor="middle">0.4</text>
<text x="1921.9" y="1432.3" text-anchor="middle">0.2</text>
<text x="2342.7" y="1432.3" text-anchor="middle">0</text>
<text transform="translate(82.5,804.5) rotate(-90)">Ratio</text>
<text x="1024.5" y="1548.8">Reflectivity <tspan class="it" dx="-4">R</tspan><tspan font-size="58.5" dy="14.4" dx="4">1</tspan></text>
<rect x="1880" y="795.2" width="49" height="12.7" fill="#ff0000"/>
<text y="811.0"><tspan x="1975.9" dy="8.2" font-size="95.0">&lt;</tspan><tspan x="2030.1" dy="-8.2" class="it">n</tspan><tspan x="2076.3" dy="8.2" font-size="95.0">&gt;</tspan><tspan x="2132.3" dy="0.9" font-size="95.0">=</tspan><tspan x="2186.8" dy="-9.1">0.</tspan><tspan class="it" dx="0.0">5</tspan></text>
<rect x="1880" y="949.5" width="49" height="12.7" fill="#0000ff"/>
<text y="965.2"><tspan x="1975.9" dy="8.2" font-size="95.0">&lt;</tspan><tspan x="2030.1" dy="-8.2" class="it">n</tspan><tspan x="2076.3" dy="8.2" font-size="95.0">&gt;</tspan><tspan x="2132.3" dy="0.9" font-size="95.0">=</tspan><tspan x="2186.8" dy="-9.1">1</tspan></text>
<rect x="1880" y="1103.8" width="49" height="12.7" fill="#ff8000"/>
<text y="1119.5"><tspan x="1975.9" dy="8.2" font-size="95.0">&lt;</tspan><tspan x="2030.1" dy="-8.2" class="it">n</tspan><tspan x="2076.3" dy="8.2" font-size="95.0">&gt;</tspan><tspan x="2132.3" dy="0.9" font-size="95.0">=</tspan><tspan x="2186.3" dy="-9.1" class="it">5</tspan></text>
<rect x="1880" y="1258.0" width="49" height="12.7" fill="#000000"/>
<text y="1273.8"><tspan x="1975.9" dy="8.2" font-size="95.0">&lt;</tspan><tspan x="2030.1" dy="-8.2" class="it">n</tspan><tspan x="2076.3" dy="8.2" font-size="95.0">&gt;</tspan><tspan x="2132.3" dy="0.9" font-size="95.0">=</tspan><tspan x="2186.8" dy="-9.1">20</tspan></text>
</svg></body></html>
